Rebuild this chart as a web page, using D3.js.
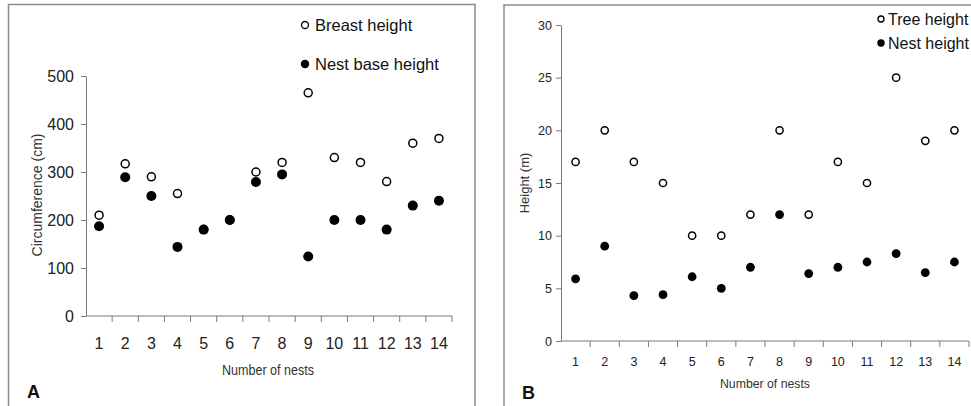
<!DOCTYPE html>
<html>
<head>
<meta charset="utf-8">
<script src="https://cdn.jsdelivr.net/npm/d3@7"></script>
<style>
body { margin: 0; background: #fff; }
svg { display: block; font-family: Arial, "Liberation Sans", sans-serif; }
</style>
</head>
<body>
<script>
// nests 1..14
var nests = [1, 2, 3, 4, 5, 6, 7, 8, 9, 10, 11, 12, 13, 14];

// panel A: circumference (cm)
var breastHeight = [210, 317, 290, 255, 180, 200, 300, 320, 465, 330, 320, 280, 360, 370];
var nestBaseHeight = [187, 289, 250, 144, 180, 200, 279, 295, 124, 200, 200, 180, 230, 240];
var ticksA = [0, 100, 200, 300, 400, 500];

// panel B: height (m)
var treeHeight = [17, 20, 17, 15, 10, 10, 12, 20, 12, 17, 15, 25, 19, 20];
var nestHeight = [5.9, 9, 4.3, 4.4, 6.1, 5, 7, 12, 6.4, 7, 7.5, 8.3, 6.5, 7.5];
var ticksB = [0, 5, 10, 15, 20, 25, 30];

var width = 971, height = 406;
var svg = d3.select("body").append("svg").attr("width", width).attr("height", height);

var frameColor = "#8c8c8c";
var axisColor = "#7a7a7a";

function panel(opt) {
    var g = svg.append("g");

    // frame: left, top, right (bottom runs off the picture)
    g.append("path")
        .attr("d", "M" + opt.frame[0] + "," + (height + 2) + "V" + opt.frame[1] + "H" + opt.frame[2] + "V" + (height + 2))
        .attr("fill", "none")
        .attr("stroke", frameColor)
        .attr("stroke-width", 1.5);

    var x = d3.scaleBand().domain(nests).range([opt.x0, opt.x1]);
    var y = d3.scaleLinear().domain(opt.domain).range([opt.y0, opt.y1]);

    // y axis
    var yAxis = g.append("g")
        .attr("transform", "translate(" + opt.x0 + ",0)")
        .call(d3.axisLeft(y).tickValues(opt.ticks).tickSize(5).tickPadding(opt.yPad).tickSizeOuter(0));
    yAxis.select(".domain").attr("stroke", axisColor);
    yAxis.selectAll(".tick line").attr("stroke", axisColor);
    yAxis.selectAll("text")
        .attr("font-size", opt.tickFont)
        .attr("font-family", "Arial, 'Liberation Sans', sans-serif")
        .attr("fill", "#222");

    // x axis: line with ticks at category boundaries, labels at centres
    var xg = g.append("g").attr("transform", "translate(0," + opt.y0 + ")");
    xg.append("line")
        .attr("x1", opt.x0).attr("x2", opt.x1)
        .attr("stroke", axisColor);
    var bounds = nests.map(function (d) { return x(d) + x.bandwidth(); });
    xg.selectAll(".bt")
        .data(bounds)
        .enter().append("line")
        .attr("x1", function (d) { return d; })
        .attr("x2", function (d) { return d; })
        .attr("y1", 0).attr("y2", 6)
        .attr("stroke", axisColor);
    xg.selectAll(".xl")
        .data(nests)
        .enter().append("text")
        .attr("x", function (d) { return x(d) + x.bandwidth() / 2; })
        .attr("y", opt.xLabelY - opt.y0)
        .attr("text-anchor", "middle")
        .attr("font-size", opt.tickFont)
        .attr("fill", "#222")
        .text(function (d) { return d; });

    // titles
    g.append("text")
        .attr("transform", "translate(" + opt.yTitle[0] + "," + opt.yTitle[1] + ") rotate(-90)")
        .attr("text-anchor", "middle")
        .attr("dy", "0.35em")
        .attr("font-size", opt.titleFont)
        .attr("fill", "#333")
        .text(opt.yTitleText);
    g.append("text")
        .attr("x", opt.xTitle[0])
        .attr("y", opt.xTitle[1])
        .attr("text-anchor", "middle")
        .attr("font-size", opt.titleFont)
        .attr("fill", "#333")
        .attr("textLength", opt.xTitleLen)
        .attr("lengthAdjust", "spacingAndGlyphs")
        .text("Number of nests");
    g.append("text")
        .attr("x", opt.letter[0])
        .attr("y", opt.letter[1])
        .attr("font-size", 18)
        .attr("font-weight", "bold")
        .attr("fill", "#111")
        .text(opt.letterText);

    // points: open series first, filled on top
    var cx = function (d, i) { return x(nests[i]) + x.bandwidth() / 2; };
    g.selectAll(".open")
        .data(opt.open)
        .enter().append("circle")
        .attr("cx", cx)
        .attr("cy", function (d) { return y(d); })
        .attr("r", opt.rOpen)
        .attr("fill", "#fff")
        .attr("stroke", "#000")
        .attr("stroke-width", 1.5);
    g.selectAll(".filled")
        .data(opt.filled)
        .enter().append("circle")
        .attr("cx", cx)
        .attr("cy", function (d) { return y(d); })
        .attr("r", opt.rFilled)
        .attr("fill", "#000");

    // legend
    var lg = g.append("g");
    lg.append("circle")
        .attr("cx", opt.legend[0]).attr("cy", opt.legend[1])
        .attr("r", opt.legendR).attr("fill", "#fff").attr("stroke", "#000").attr("stroke-width", 1.3);
    lg.append("circle")
        .attr("cx", opt.legend[0]).attr("cy", opt.legend[2])
        .attr("r", opt.legendR + 0.7).attr("fill", "#000");
    opt.legendText.forEach(function (t, i) {
        lg.append("text")
            .attr("x", opt.legend[0] + opt.legendGap)
            .attr("y", (i === 0 ? opt.legend[1] : opt.legend[2]) + 6)
            .attr("font-size", opt.legendFont)
            .attr("fill", "#111")
            .text(t);
    });
}

panel({
    frame: [8.5, 4.5, 475],
    x0: 86, x1: 452, y0: 316, y1: 76,
    domain: [0, 500], ticks: ticksA,
    yPad: 7, tickFont: 16, xLabelY: 349,
    titleFont: 14,
    yTitle: [37, 195], yTitleText: "Circumference (cm)",
    xTitle: [268, 375], xTitleLen: 92,
    letter: [27, 398], letterText: "A",
    open: breastHeight, filled: nestBaseHeight,
    rOpen: 4, rFilled: 5,
    legend: [305, 25, 64], legendR: 3.5, legendGap: 10,
    legendText: ["Breast height", "Nest base height"],
    legendFont: 16.5
});

panel({
    frame: [504, 5, 990],
    x0: 561, x1: 969, y0: 341, y1: 25,
    domain: [0, 30], ticks: ticksB,
    yPad: 4, tickFont: 12.5, xLabelY: 366,
    titleFont: 13,
    yTitle: [524, 183], yTitleText: "Height (m)",
    xTitle: [765, 388], xTitleLen: 90,
    letter: [522, 399], letterText: "B",
    open: treeHeight, filled: nestHeight,
    rOpen: 3.6, rFilled: 4.4,
    legend: [881, 19, 43], legendR: 3, legendGap: 7,
    legendText: ["Tree height", "Nest height"],
    legendFont: 16
});
</script>
</body>
</html>
